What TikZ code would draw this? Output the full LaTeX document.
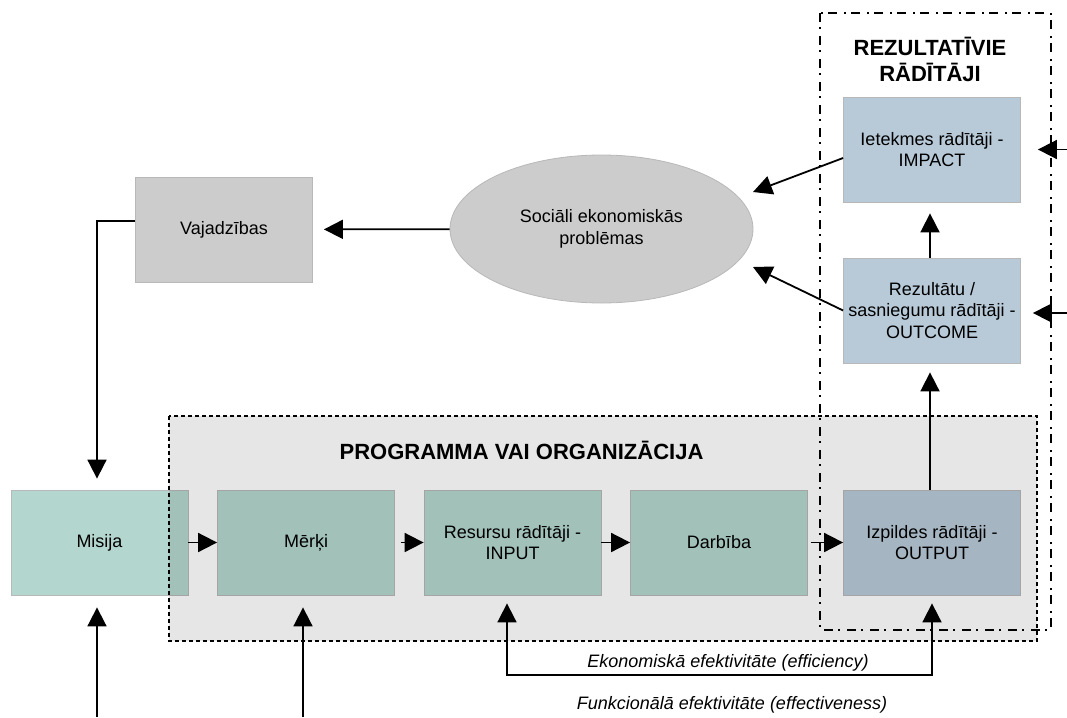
\documentclass[tikz,border=0pt]{standalone}
\usepackage{fontspec}
\setmainfont{Liberation Sans}
\usetikzlibrary{arrows.meta,shapes.geometric}
\definecolor{tealbox}{HTML}{B3D6CE}
\definecolor{bluebox}{HTML}{B8CAD8}
\definecolor{graybox}{HTML}{CCCCCC}
\definecolor{panelgray}{HTML}{E6E6E6}

\begin{document}
\begin{tikzpicture}[x=1pt, y=-1pt,
    block/.style={rectangle, draw=black!28, line width=0.8pt, minimum width=177pt, minimum height=105pt, inner sep=2pt, align=center, font=\fontsize{18}{21.5}\selectfont},
    heading/.style={align=center, font=\fontsize{22}{26}\selectfont\bfseries},
    caption/.style={font=\fontsize{18}{21.5}\selectfont\itshape},
    flow/.style={line width=1.8pt, -{Triangle[length=19pt,width=19pt]}},
    flowboth/.style={line width=1.8pt, {Triangle[length=19pt,width=19pt]}-{Triangle[length=19pt,width=19pt]}},
    node distance = 206.5pt]
          \useasboundingbox (0,0) rectangle (1067,717);
          % boxes
          \node[block, fill=tealbox](misija)  at (99.5,542.5)            {Misija};
          \node[block, fill=tealbox](merki)   [right of = misija]       {Mērķi};
          \node[block, fill=tealbox](input)   [right of = merki]        {Resursu rādītāji -\\INPUT};
          \node[block, fill=tealbox](darbiba) [right of = input]        {Darbība};
          \node[block, fill=bluebox](output)  [right of = darbiba, xshift=6.5pt] {Izpildes rādītāji -\\OUTPUT};
          \node[block, fill=bluebox](outcome) [above of = output, node distance=232pt]  {Rezultātu /\\sasniegumu rādītāji -\\OUTCOME};
          \node[block, fill=bluebox](impact)  [above of = outcome, node distance=161pt] {Ietekmes rādītāji -\\IMPACT};
          \node[block, fill=graybox](vajadzibas) at (224,229.5)         {Vajadzības};
          \node[ellipse, draw=black!28, line width=0.8pt, fill=graybox, minimum width=303pt, minimum height=148pt, align=center, font=\fontsize{18}{21.5}\selectfont](problemas) at (601.5,229) {Sociāli ekonomiskās\\problēmas};
          % free ends
          \coordinate (misijain)   at (97,717);
          \coordinate (merkiin)    at (303,717);
          \coordinate (impactin)   at (1067,149.5);
          \coordinate (outcomein)  at (1067,313);
          \coordinate (tipimpact)  at (753,192);
          \coordinate (tipoutcome) at (753,267);
          \coordinate (effline)    at (720,675);
          % connectors
          \path[flow]
            (problemas) edge[shorten >=11pt] (vajadzibas)
            ([yshift=8.5pt]vajadzibas.west) edge[shorten >=11pt, to path={-| (\tikztotarget)}] ([xshift=-2.5pt]misija.north)
            (misijain) edge[shorten >=12pt] (misijain |- misija.south)
            (merkiin) edge[shorten >=12pt] (merkiin |- merki.south)
            (misija) edge (merki)
            (merki) edge[shorten <=6pt] (input)
            (input) edge (darbiba)
            (darbiba) edge[shorten <=3pt] (output)
            ([xshift=-2pt]output.north) edge[shorten >=9pt] ([xshift=-2pt]outcome.south)
            ([xshift=-2pt]outcome.north) edge[shorten >=11pt] ([xshift=-2pt]impact.south)
            ([yshift=-8.5pt]impact.west) edge (tipimpact)
            (outcome.west) edge (tipoutcome)
            (impactin) edge[shorten >=17pt] (impact.east)
            (outcomein) edge[shorten >=12pt] (outcome.east |- outcomein)
            ;
          \draw[flowboth, shorten <=8pt, shorten >=8pt] ([xshift=-5.5pt]input.south) |- (effline) -| (output.south);
          % program panel
          \begin{scope}[blend mode=multiply]
            \draw[fill=panelgray, line width=1.4pt, dash pattern=on 4pt off 3pt] (169,416) rectangle (1037,641);
          \end{scope}
          % results frame
          \draw[line width=1.3pt, dash pattern=on 9pt off 5pt on 2pt off 7pt] (820,13) rectangle (1051,630);
          % texts
          \node[heading](progtitle)  at (521.5,450) {PROGRAMMA VAI ORGANIZĀCIJA};
          \node[heading](rezultitle) at (930,59)    {REZULTATĪVIE\\RĀDĪTĀJI};
          \node[caption](efficiency)    at (728,663) {Ekonomiskā efektivitāte (efficiency)};
          \node[caption](effectiveness) at (732,705) {Funkcionālā efektivitāte (effectiveness)};
        \end{tikzpicture}
\end{document}
